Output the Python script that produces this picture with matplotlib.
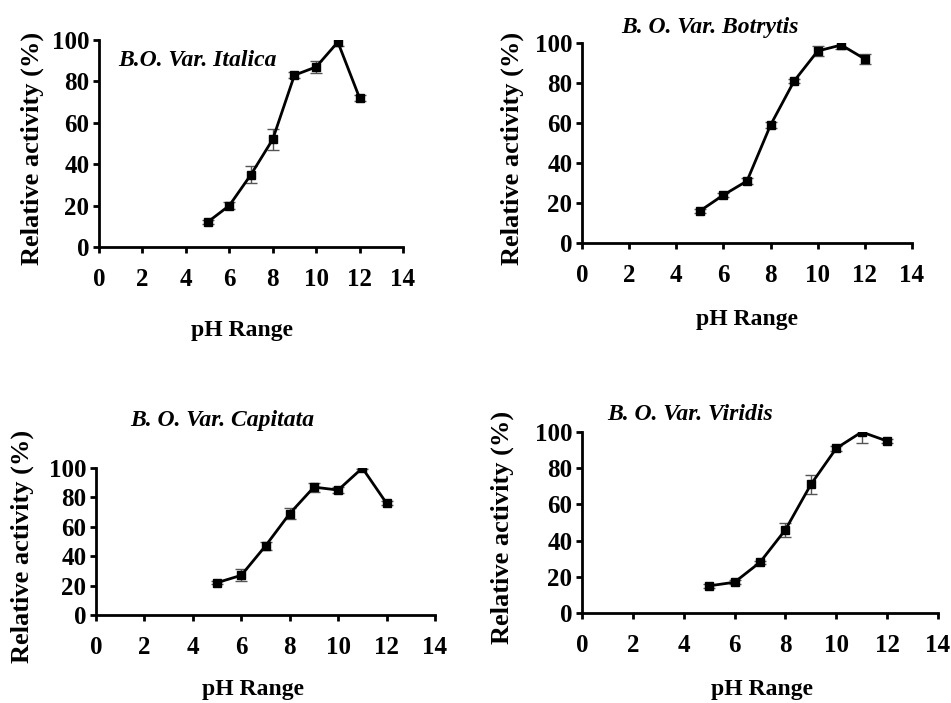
import numpy as np
import matplotlib.pyplot as plt

ph = [5, 6, 7, 8, 9, 10, 11, 12]

italica = [12, 20, 35, 52, 83, 87, 99, 72]
italica_err = [1, 1.5, 4, 5, 1.5, 3, 2, 1.5]
botrytis = [16, 24, 31, 59, 81, 96, 99, 92]
botrytis_err = [1, 1, 1.5, 1.5, 1, 2.5, 2, 2.5]
capitata = [22, 27, 47, 69, 87, 85, 100, 76]
capitata_err = [1, 4, 3, 4, 3, 2, 1, 1.5]
viridis = [15, 17, 28, 46, 71, 91, 100, 95]
viridis_err = [1, 1, 1, 4, 5, 1.5, 6, 1]

names = ["B.O. Var. Italica", "B. O. Var. Botrytis",
         "B. O. Var. Capitata", "B. O. Var. Viridis"]

plt.rcParams['font.family'] = ['Liberation Serif', 'DejaVu Serif']
plt.rcParams['font.weight'] = 'bold'

W, H = 951, 703
fig = plt.figure(figsize=(W / 100, H / 100), dpi=100)

# axes boxes in pixels: left, top, right, bottom
boxes = [(99, 40, 403, 247), (582, 43, 912, 243),
         (96, 468, 435, 615), (582, 432, 938, 613)]
# title positions (pixels)
title_pos = [(197, 60), (710, 27), (222, 420), (690, 415)]
xlab_pos = [(242, 330), (747, 320), (253, 690), (762, 690)]
ylab_x = [32, 512, 22, 502]

series = [(italica, italica_err), (botrytis, botrytis_err),
          (capitata, capitata_err), (viridis, viridis_err)]

for i in range(4):
    l, t, r, b = boxes[i]
    ax = fig.add_axes([l / W, 1 - b / H, (r - l) / W, (b - t) / H])
    y, e = series[i]
    ax.errorbar(ph, y, yerr=e, color="black", lw=2, marker="s", ms=6,
                ecolor="#555555", elinewidth=1, capsize=4, capthick=1)
    ax.set_xlim(0, 14)
    ax.set_ylim(0, 100)
    ax.set_xticks(range(0, 15, 2))
    ax.set_yticks(range(0, 101, 20))
    ax.spines['top'].set_visible(False)
    ax.spines['right'].set_visible(False)
    ax.spines['left'].set_linewidth(2)
    ax.spines['bottom'].set_linewidth(2)
    ax.tick_params(direction="out", length=4, width=2, labelsize=18)
    ax.tick_params(axis="x", pad=11)
    ax.tick_params(axis="y", pad=3)
    for lab in ax.get_xticklabels() + ax.get_yticklabels():
        lab.set_fontweight("bold")
    ax.patch.set_alpha(0)

    tx, ty = title_pos[i]
    fig.text(tx / W, 1 - ty / H, names[i], ha="center", va="center",
             fontsize=17, style="italic", fontweight="bold")
    xx, xy = xlab_pos[i]
    fig.text(xx / W, 1 - xy / H, "pH Range", ha="center", va="center",
             fontsize=17, fontweight="bold")
    fig.text(ylab_x[i] / W, 1 - ((t + b) / 2 + 5) / H, "Relative activity (%)",
             ha="center", va="center", rotation=90, fontsize=19, fontweight="bold")

fig.savefig("out.png", dpi=100)
